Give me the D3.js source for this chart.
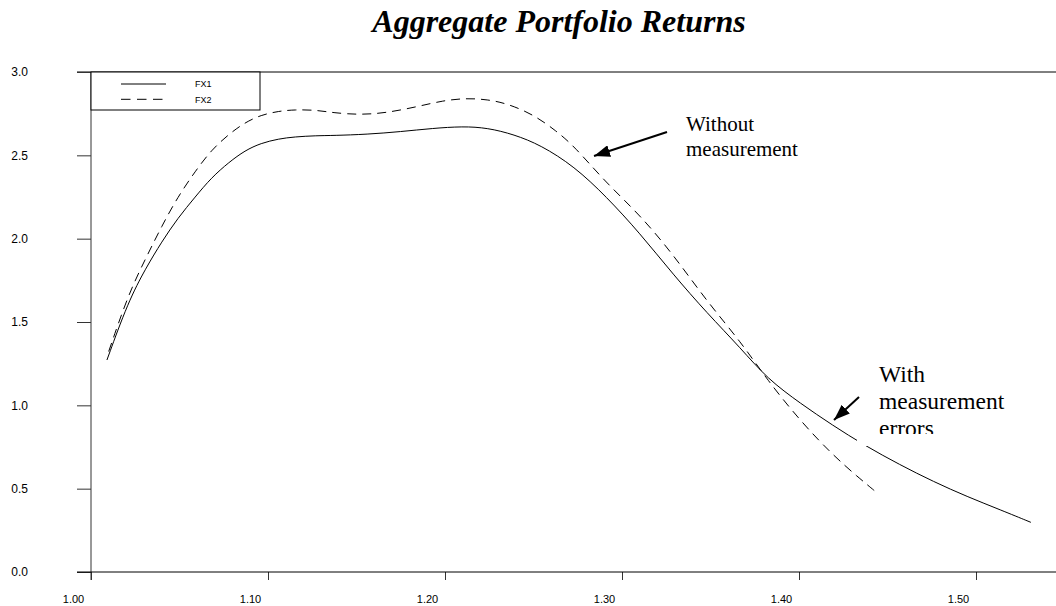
<!DOCTYPE html>
<html>
<head>
<meta charset="utf-8">
<script src="https://cdn.jsdelivr.net/npm/d3@7"></script>
<style>
  html, body { margin: 0; padding: 0; background: #fff; }
  svg { display: block; }
</style>
</head>
<body>
<svg id="chart" width="1056" height="606"></svg>
<script>
// ---- data ----
const fx1X = [1.009,1.021,1.031,1.040,1.049,1.059,1.068,1.078,1.087,1.096,1.106,1.115,1.127,1.137,1.156,1.175,1.193,1.210,1.224,1.239,1.254,1.273,1.291,1.310,1.329,1.348,1.367,1.382,1.401,1.419,1.437,1.457,1.476,1.495,1.514,1.531];
const fx1Y = [1.272,1.622,1.824,1.982,2.123,2.252,2.366,2.459,2.529,2.573,2.599,2.611,2.618,2.619,2.626,2.642,2.662,2.674,2.665,2.625,2.562,2.434,2.254,2.034,1.784,1.554,1.344,1.160,1.010,0.880,0.760,0.643,0.542,0.452,0.372,0.298];
const fx2X = [1.010,1.021,1.031,1.040,1.049,1.059,1.068,1.078,1.087,1.096,1.106,1.115,1.127,1.137,1.152,1.167,1.184,1.199,1.212,1.224,1.235,1.250,1.263,1.273,1.291,1.310,1.329,1.348,1.367,1.382,1.401,1.419,1.433,1.444];
const fx2Y = [1.323,1.664,1.884,2.076,2.250,2.406,2.532,2.628,2.697,2.742,2.765,2.774,2.772,2.755,2.743,2.755,2.791,2.829,2.843,2.835,2.811,2.745,2.645,2.555,2.335,2.144,1.904,1.623,1.383,1.153,0.903,0.703,0.572,0.476];
const xTicks = [1.00,1.10,1.20,1.30,1.40,1.50];
const yTicks = [0.0,0.5,1.0,1.5,2.0,2.5,3.0];
const seriesNames = ["FX1","FX2"];
const titleText = "Aggregate Portfolio Returns";
const note1 = ["Without","measurement"];
const note2 = ["With","measurement","errors"];

// ---- layout ----
const svg = d3.select("#chart");
const x = d3.scaleLinear().domain([1.0, 1.545]).range([91, 1055.65]);
const y = d3.scaleLinear().domain([0, 3]).range([572, 72]);

svg.append("text")
  .attr("x", 559).attr("y", 32)
  .attr("text-anchor", "middle")
  .style("font-family", "'Liberation Serif','Times New Roman',serif")
  .style("font-weight", "bold").style("font-style", "italic")
  .style("font-size", "32px")
  .text(titleText);

// top border line
svg.append("line").attr("x1", 77).attr("x2", 1056).attr("y1", y(3)).attr("y2", y(3))
  .attr("stroke", "#000").attr("stroke-width", 1);

// y axis
const yAxis = svg.append("g").attr("transform", "translate(91,0)")
  .call(d3.axisLeft(y).tickValues(yTicks).tickFormat(d3.format(".1f")).tickSize(14).tickPadding(49));
yAxis.select(".domain").remove();
yAxis.selectAll(".tick line").attr("stroke", "#333");
yAxis.selectAll("text").style("font-family", "'Liberation Sans',Arial,sans-serif").style("font-size", "12px").attr("fill", "#000");
svg.append("line").attr("x1", 91).attr("x2", 91).attr("y1", 72).attr("y2", 580).attr("stroke", "#333");

// x axis
const xAxis = svg.append("g").attr("transform", "translate(0,572)")
  .call(d3.axisBottom(x).tickValues(xTicks).tickFormat(d3.format(".2f")).tickSize(8).tickPadding(15));
xAxis.select(".domain").remove();
xAxis.selectAll(".tick line").attr("stroke", "#333");
xAxis.selectAll("text").attr("dx", -18).style("font-family", "'Liberation Sans',Arial,sans-serif").style("font-size", "11px").attr("fill", "#000");
svg.append("line").attr("x1", 77).attr("x2", 1056).attr("y1", 572).attr("y2", 572).attr("stroke", "#000");

// curves
const line = d3.line().x(d => x(d[0])).y(d => y(d[1])).curve(d3.curveBasis);
const s1 = fx1X.map((v, i) => [v, fx1Y[i]]);
const s2 = fx2X.map((v, i) => [v, fx2Y[i]]);
svg.append("path").attr("d", line(s1)).attr("fill", "none").attr("stroke", "#000").attr("stroke-width", 1);
svg.append("path").attr("d", line(s2)).attr("fill", "none").attr("stroke", "#000").attr("stroke-width", 1).attr("stroke-dasharray", "9,6");

// legend
const lg = svg.append("g");
lg.append("rect").attr("x", 91).attr("y", 72).attr("width", 169).attr("height", 38)
  .attr("fill", "#fff").attr("stroke", "#000");
seriesNames.forEach((n, i) => {
  const ly = 84 + i * 15.3;
  lg.append("line").attr("x1", 121).attr("x2", 166).attr("y1", ly).attr("y2", ly)
    .attr("stroke", "#000").attr("stroke-dasharray", i === 1 ? "9.5,6.5" : null);
  lg.append("text").attr("x", 195).attr("y", ly + 3.3).text(n)
    .style("font-family", "'Liberation Sans',Arial,sans-serif").style("font-size", "9px");
});

// annotations
const defs = svg.append("defs");
defs.append("marker").attr("id", "ah").attr("viewBox", "0 0 16 12").attr("refX", 16).attr("refY", 6)
  .attr("markerWidth", 16).attr("markerHeight", 12).attr("markerUnits", "userSpaceOnUse").attr("orient", "auto")
  .append("path").attr("d", "M0,0 L16,6 L0,12 Z").attr("fill", "#000");
defs.append("clipPath").attr("id", "clip2").append("rect").attr("x", 857).attr("y", 355).attr("width", 180).attr("height", 79);

const serif = "'Liberation Serif','Times New Roman',serif";
const n1 = svg.append("text").style("font-family", serif).style("font-size", "21px");
note1.forEach((t, i) => n1.append("tspan").attr("x", 686).attr("y", 131 + i * 24.5).text(t));
svg.append("line").attr("x1", 667).attr("y1", 132).attr("x2", 594).attr("y2", 156)
  .attr("stroke", "#000").attr("stroke-width", 2).attr("marker-end", "url(#ah)");

svg.append("rect").attr("x", 857).attr("y", 358).attr("width", 150).attr("height", 88).attr("fill", "#fff");
const n2 = svg.append("text").attr("clip-path", "url(#clip2)").style("font-family", serif).style("font-size", "23.5px");
note2.forEach((t, i) => n2.append("tspan").attr("x", 879).attr("y", 382 + i * 27).text(t));
svg.append("line").attr("x1", 859).attr("y1", 397).attr("x2", 834).attr("y2", 420)
  .attr("stroke", "#000").attr("stroke-width", 2).attr("marker-end", "url(#ah)");
</script>
</body>
</html>
